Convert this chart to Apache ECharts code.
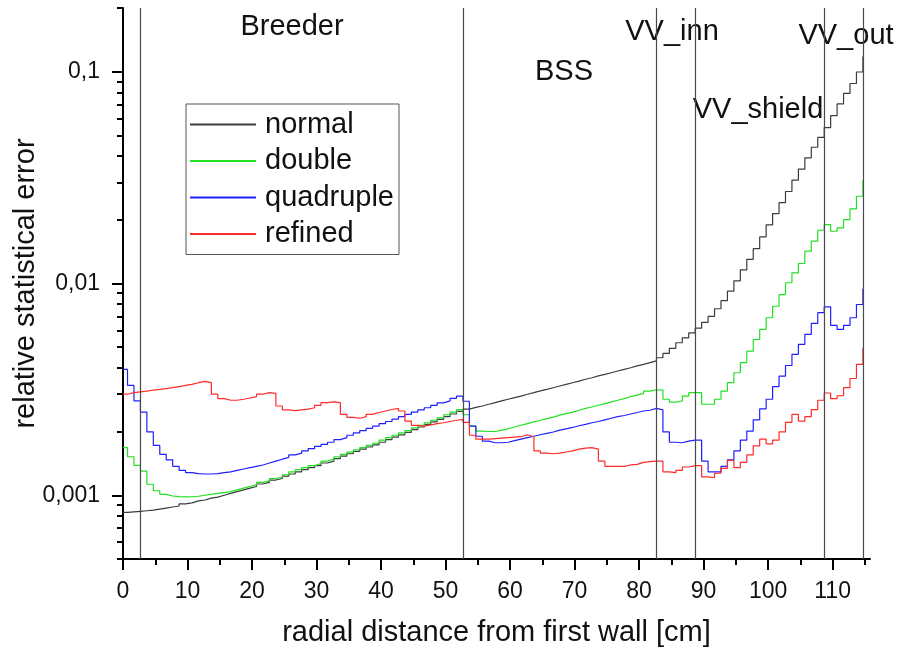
<!DOCTYPE html>
<html>
<head>
<meta charset="utf-8">
<title>relative statistical error</title>
<script src="https://cdn.jsdelivr.net/npm/echarts@6/dist/echarts.min.js"></script>
<style>
html, body { margin: 0; padding: 0; background: #fff; }
#main { width: 898px; height: 650px; }
</style>
</head>
<body>
<div id="main"></div>
<script>
// one value per 1 cm bin (first bin 0..0.7), last entry = value at the right end
var normal = [
    0.00083, 0.000835, 0.00084, 0.000845, 0.00085, 0.00086, 0.00087, 0.00088, 0.00089, 0.00091,
    0.00092, 0.00094, 0.00095, 0.00097, 0.00098, 0.00100, 0.00102, 0.00104, 0.00106, 0.00108,
    0.00110, 0.00113, 0.00115, 0.00118, 0.00120, 0.00123, 0.00126, 0.00129, 0.00132, 0.00135,
    0.00138, 0.00142, 0.00145, 0.00149, 0.00153, 0.00157, 0.00161, 0.00165, 0.00169, 0.00173,
    0.00178, 0.00183, 0.00188, 0.00193, 0.00198, 0.00204, 0.00210, 0.00216, 0.00222, 0.00228,
    0.00235, 0.00242, 0.00249, 0.00255, 0.00260, 0.00264, 0.00269, 0.00274, 0.00279, 0.00284,
    0.00289, 0.00294, 0.00300, 0.00305, 0.00311, 0.00316, 0.00322, 0.00328, 0.00334, 0.00340,
    0.00346, 0.00353, 0.00359, 0.00366, 0.00372, 0.00379, 0.00386, 0.00393, 0.00400, 0.00408,
    0.00415, 0.00423, 0.00431, 0.00446, 0.00468, 0.00494, 0.00525, 0.00554, 0.00585, 0.00615,
    0.00655, 0.00700, 0.00760, 0.00830, 0.00920, 0.01030, 0.01160, 0.01300, 0.01460, 0.0166,
    0.0189, 0.0214, 0.0241, 0.0272, 0.0308, 0.0347, 0.0392, 0.0440, 0.0490, 0.0545,
    0.0620, 0.0705, 0.0790, 0.0880, 0.0997, 0.118
];
var double = [
    0.00168, 0.00152, 0.001385, 0.00130, 0.001127, 0.00105, 0.00101, 0.000992, 0.000986, 0.000982,
    0.000984, 0.000989, 0.00100, 0.00101, 0.00102, 0.00103, 0.00104, 0.00106, 0.00108, 0.00110,
    0.00112, 0.00115, 0.00117, 0.00120, 0.00122, 0.00125, 0.00129, 0.00132, 0.00135, 0.00138,
    0.00141, 0.00145, 0.00148, 0.00152, 0.00156, 0.00160, 0.00164, 0.00168, 0.00172, 0.00176,
    0.00182, 0.00187, 0.00192, 0.00197, 0.00202, 0.00208, 0.00214, 0.00220, 0.00226, 0.00232,
    0.00240, 0.00247, 0.00254, 0.00240, 0.00212, 0.00201, 0.00200, 0.00200, 0.00203, 0.00206,
    0.00210, 0.00214, 0.00218, 0.00222, 0.00226, 0.00230, 0.00234, 0.00239, 0.00243, 0.00247,
    0.00252, 0.00257, 0.00261, 0.00266, 0.00271, 0.00276, 0.00281, 0.00286, 0.00292, 0.00297,
    0.00303, 0.00310, 0.00315, 0.00314, 0.00284, 0.00275, 0.00279, 0.00294, 0.00305, 0.00305,
    0.00269, 0.00269, 0.00284, 0.00310, 0.00340, 0.00379, 0.00423, 0.00479, 0.00544, 0.00607,
    0.00689, 0.00781, 0.00887, 0.01008, 0.01123, 0.01243, 0.01421, 0.01584, 0.01784, 0.01898,
    0.01765, 0.01831, 0.02004, 0.02251, 0.02582, 0.03072
];
var quadruple = [
    0.00393, 0.00330, 0.00279, 0.00247, 0.00199, 0.00172, 0.00156, 0.00147, 0.00137, 0.00131,
    0.00128, 0.001266, 0.00126, 0.00126, 0.001266, 0.00128, 0.00129, 0.00131, 0.00133, 0.00135,
    0.00137, 0.00139, 0.00142, 0.00145, 0.00148, 0.00151, 0.00155, 0.00158, 0.00162, 0.00166,
    0.00170, 0.00174, 0.00178, 0.00183, 0.00187, 0.00192, 0.00197, 0.00202, 0.00207, 0.00212,
    0.00218, 0.00223, 0.00229, 0.00235, 0.00241, 0.00247, 0.00253, 0.00259, 0.00266, 0.00273,
    0.00279, 0.00287, 0.00294, 0.00278, 0.00212, 0.00190, 0.00180, 0.00177, 0.00177, 0.00178,
    0.00181, 0.00184, 0.00187, 0.00190, 0.00193, 0.00196, 0.00199, 0.00203, 0.00206, 0.00209,
    0.00213, 0.00216, 0.00220, 0.00223, 0.00227, 0.00231, 0.00235, 0.00238, 0.00242, 0.00246,
    0.00250, 0.00252, 0.00257, 0.00253, 0.00199, 0.00178, 0.00177, 0.00180, 0.00182, 0.00182,
    0.00145, 0.00129, 0.00129, 0.00137, 0.00147, 0.00162, 0.00182, 0.00201, 0.00227, 0.00256,
    0.00284, 0.00326, 0.00365, 0.00410, 0.00463, 0.00516, 0.00575, 0.00648, 0.00728, 0.00776,
    0.00634, 0.00607, 0.00634, 0.00689, 0.00796, 0.00944
];
var refined = [
    0.00300, 0.00305, 0.00308, 0.00310, 0.00314, 0.00316, 0.00319, 0.00322, 0.00326, 0.00330,
    0.00334, 0.00340, 0.00345, 0.00340, 0.00300, 0.00286, 0.00281, 0.00281, 0.00284, 0.00288,
    0.00292, 0.00300, 0.00305, 0.00303, 0.00264, 0.00253, 0.00251, 0.00253, 0.00255, 0.00259,
    0.00266, 0.00274, 0.00276, 0.00274, 0.00241, 0.00233, 0.00231, 0.00235, 0.00241, 0.00246,
    0.00250, 0.00254, 0.00257, 0.00250, 0.00224, 0.00214, 0.00212, 0.00215, 0.00218, 0.00220,
    0.00223, 0.00226, 0.00228, 0.00221, 0.00192, 0.00184, 0.00184, 0.00185, 0.00186, 0.00187,
    0.00188, 0.00189, 0.00193, 0.00189, 0.00162, 0.00158, 0.00157, 0.00158, 0.00160, 0.00162,
    0.00165, 0.00167, 0.00168, 0.00165, 0.00145, 0.00137, 0.00137, 0.00137, 0.00139, 0.00140,
    0.00143, 0.00144, 0.00145, 0.00145, 0.00129, 0.00128, 0.00131, 0.00136, 0.00138, 0.00138,
    0.00122, 0.00121, 0.00127, 0.00134, 0.00146, 0.00135, 0.00143, 0.00155, 0.00171, 0.00184,
    0.00175, 0.00182, 0.00199, 0.00221, 0.00241, 0.00224, 0.00235, 0.00254, 0.00281, 0.00304,
    0.00286, 0.00295, 0.00322, 0.00356, 0.00415, 0.00497
];

var seriesNames = ['normal', 'double', 'quadruple', 'refined'];
var seriesColors = ['#3c3c3c', '#22e022', '#2020ff', '#ff2a2a'];
var layerBounds = [2.7, 52.7, 82.7, 88.7, 108.7, 114.7];
var layerNames = [
    {text: 'Breeder', x: 292, y: 27},
    {text: 'BSS', x: 564, y: 72},
    {text: 'VV_inn', x: 672, y: 32},
    {text: 'VV_shield', x: 758, y: 110},
    {text: 'VV_out', x: 846, y: 36}
];
var xMajor = [0, 10, 20, 30, 40, 50, 60, 70, 80, 90, 100, 110];
var xMinor = [5, 15, 25, 35, 45, 55, 65, 75, 85, 95, 105, 115];
var yMajor = [0.001, 0.01, 0.1];
var yMinor = [0.0005, 0.0006, 0.0007, 0.0008, 0.0009,
    0.002, 0.003, 0.004, 0.005, 0.006, 0.007, 0.008, 0.009,
    0.02, 0.03, 0.04, 0.05, 0.06, 0.07, 0.08, 0.09, 0.2];

// left edges of the bins, the last one closes the final bin
var binEdges = [];
for (var i = 0; i < normal.length; i++) {
    binEdges.push(i === 0 ? 0 : i - 0.3);
}

var FONT = 'Liberation Sans';
var myChart = echarts.init(document.getElementById('main'));

function toPairs(vals) {
    return vals.map(function (v, i) { return [binEdges[i], v]; });
}

var allSeries = [normal, double, quadruple, refined].map(function (vals, k) {
    var s = {
        name: seriesNames[k],
        type: 'line',
        step: 'end',
        symbol: 'none',
        xAxisIndex: 0,
        yAxisIndex: 0,
        data: toPairs(vals),
        lineStyle: {color: seriesColors[k], width: 1.2},
        itemStyle: {color: seriesColors[k]},
        animation: false
    };
    if (k === 0) {
        s.markLine = {
            silent: true,
            symbol: ['none', 'none'],
            label: {show: false},
            lineStyle: {color: '#4a4a4a', width: 1.2, type: 'solid'},
            data: layerBounds.map(function (b) { return {xAxis: b}; })
        };
    }
    return s;
});

var option = {
    backgroundColor: '#fff',
    animation: false,
    textStyle: {fontFamily: FONT},
    grid: {left: 123, right: 28, top: 8, bottom: 91, containLabel: false, outerBoundsMode: 'none'},
    legend: {
        orient: 'vertical',
        left: 186,
        top: 104,
        padding: [6, 5, 6, 4],
        icon: 'rect',
        itemWidth: 66,
        itemHeight: 2,
        itemGap: 7.5,
        borderColor: '#555',
        borderWidth: 1,
        textStyle: {fontFamily: FONT, fontSize: 29, color: '#111', lineHeight: 28, padding: [0, 0, 0, 4]},
        data: seriesNames
    },
    xAxis: [
        {
            type: 'value', min: 0, max: 115.8, interval: 10,
            name: 'radial distance from first wall [cm]',
            nameLocation: 'middle', nameGap: 59, nameMoveOverlap: false,
            nameTextStyle: {fontFamily: FONT, fontSize: 29, color: '#111'},
            axisLine: {onZero: false, lineStyle: {color: '#000', width: 2}},
            axisTick: {customValues: xMajor, length: 11, lineStyle: {color: '#000', width: 2}},
            axisLabel: {customValues: xMajor, margin: 21, fontFamily: FONT, fontSize: 23, color: '#111'},
            splitLine: {show: false}
        },
        {
            type: 'value', min: 0, max: 115.8, position: 'bottom',
            axisLine: {show: false},
            axisTick: {customValues: xMinor, length: 6, lineStyle: {color: '#000', width: 2}},
            axisLabel: {show: false},
            splitLine: {show: false}
        }
    ],
    yAxis: [
        {
            type: 'log', logBase: 10, min: 0.0005, max: 0.2, position: 'left',
            name: 'relative statistical error',
            nameLocation: 'middle', nameGap: 83, nameMoveOverlap: false,
            nameTextStyle: {fontFamily: FONT, fontSize: 29, color: '#111'},
            axisLine: {show: true, lineStyle: {color: '#000', width: 2}},
            axisTick: {show: true, customValues: yMajor, length: 11, lineStyle: {color: '#000', width: 2}},
            axisLabel: {
                customValues: yMajor, margin: 23, fontFamily: FONT, fontSize: 23, color: '#111',
                formatter: function (v) { return String(Number(v.toPrecision(3))).replace('.', ','); }
            },
            splitLine: {show: false}
        },
        {
            type: 'log', logBase: 10, min: 0.0005, max: 0.2, position: 'left',
            axisLine: {show: false},
            axisTick: {show: true, customValues: yMinor, length: 6, lineStyle: {color: '#000', width: 2}},
            axisLabel: {show: false},
            splitLine: {show: false}
        }
    ],
    graphic: layerNames.map(function (t) {
        return {
            type: 'text',
            x: t.x, y: t.y,
            silent: true,
            style: {
                text: t.text, fill: '#111',
                font: '29px "' + FONT + '"',
                textAlign: 'center', textVerticalAlign: 'middle'
            }
        };
    }),
    series: allSeries
};

myChart.setOption(option);
</script>
</body>
</html>
